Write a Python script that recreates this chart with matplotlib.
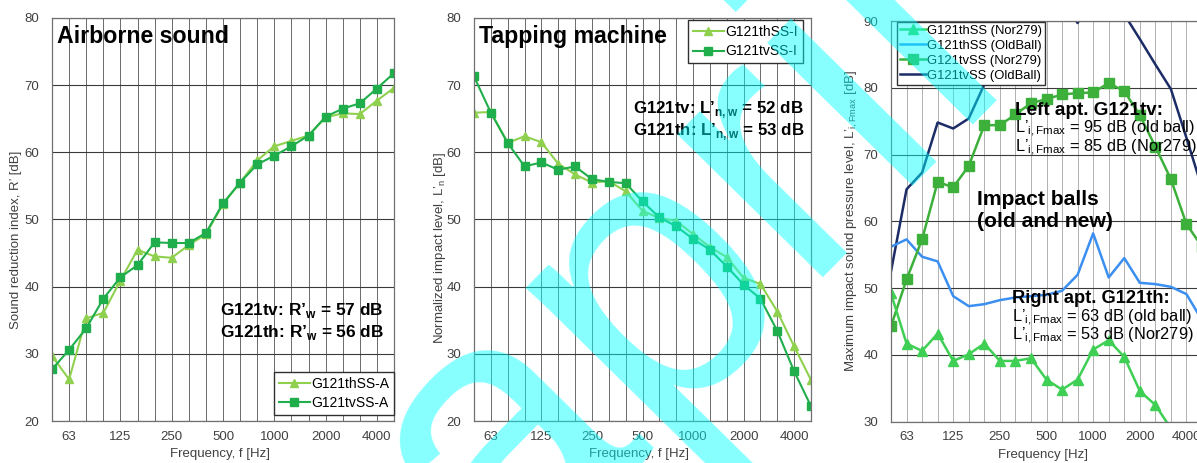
import numpy as np
import matplotlib.pyplot as plt

plt.rcParams['font.family'] = ['Liberation Sans', 'DejaVu Sans']
plt.rcParams['mathtext.fontset'] = 'custom'
plt.rcParams['mathtext.rm'] = 'Liberation Sans'

# 1/3 octave bands
freqs = [50, 63, 80, 100, 125, 160, 200, 250, 315, 400, 500, 630, 800,
         1000, 1250, 1600, 2000, 2500, 3150, 4000, 5000]
tick_freqs = [63, 125, 250, 500, 1000, 2000, 4000]

# airborne sound, R' [dB]
air_th = [29.7, 26.2, 35.3, 36.1, 40.9, 45.5, 44.5, 44.3, 46.2, 47.8, 52.3,
          55.5, 58.8, 60.9, 61.7, 62.5, 65.2, 65.8, 65.7, 67.7, 69.6]
air_tv = [27.7, 30.6, 33.8, 38.2, 41.4, 43.2, 46.6, 46.5, 46.5, 48.0, 52.4,
          55.5, 58.2, 59.5, 60.9, 62.5, 65.3, 66.5, 67.3, 69.5, 71.8]

# tapping machine, L'n [dB]
tap_th = [65.9, 66.0, 61.4, 62.4, 61.5, 58.3, 56.7, 55.5, 55.7, 54.2, 51.3,
          50.2, 49.8, 47.8, 45.9, 44.4, 41.3, 40.4, 36.3, 31.1, 26.1]
tap_tv = [71.3, 65.9, 61.4, 57.9, 58.5, 57.4, 57.9, 56.0, 55.6, 55.4, 52.7,
          50.3, 49.0, 47.1, 45.5, 43.0, 40.3, 38.2, 33.4, 27.4, 22.2]

# impact balls, L'i,Fmax [dB]
ball_th_nor = [49.2, 41.7, 40.6, 43.2, 39.1, 40.1, 41.7, 39.1, 39.1, 39.5, 36.3,
               34.8, 36.3, 40.8, 42.2, 39.7, 34.6, 32.5, 29.0, 27.0, 25.0]
ball_th_old = [56.2, 57.3, 54.7, 54.0, 48.8, 47.3, 47.6, 48.2, 48.6, 48.8, 49.0,
               49.6, 52.0, 58.2, 51.6, 54.5, 50.8, 50.6, 50.2, 49.1, 45.2]
ball_tv_nor = [44.3, 51.3, 57.3, 65.9, 65.1, 68.3, 74.4, 74.4, 76.0, 77.7, 78.3,
               79.0, 79.2, 79.3, 80.7, 79.5, 75.9, 71.2, 66.3, 59.6, 56.2]
ball_tv_old = [52.5, 64.8, 67.3, 74.8, 73.9, 75.4, 80.5, 84.5, 88.0, 91.0, 93.0,
               93.0, 89.7, 94.0, 93.0, 91.0, 87.3, 83.5, 79.8, 72.5, 65.0]

W, H = 1197, 463
fig = plt.figure(figsize=(W / 100, H / 100), dpi=100)

def fx(px):
    return px / W

def fy(py):
    return 1 - py / H

x = np.arange(len(freqs))
xlabels = [str(f) if f in tick_freqs else '' for f in freqs]
tc = '#404040'


def setup(ax, ymin, ymax, ylabel, xlabel, ylab_x, ylab_y, vgrid='#6a6a6a'):
    ax.set_xlim(0, len(freqs) - 1)
    ax.set_ylim(ymin, ymax)
    ax.set_xticks(x)
    ax.set_xticklabels(xlabels)
    ax.set_yticks(np.arange(ymin, ymax + 1, 10))
    ax.tick_params(length=0, labelsize=9.5, colors=tc)
    ax.tick_params(axis='x', pad=7)
    ax.tick_params(axis='y', pad=9)
    ax.grid(True, axis='x', color=vgrid, lw=0.7)
    ax.grid(True, axis='y', color='#3a3a3a', lw=0.8)
    ax.set_axisbelow(True)
    for s in ax.spines.values():
        s.set_color('#707070')
        s.set_linewidth(0.9)
    ax.set_ylabel(ylabel, fontsize=9.5, color=tc)
    ax.set_xlabel(xlabel, fontsize=9.5, color=tc)
    ax.yaxis.set_label_coords(ylab_x, ylab_y)
    ax.xaxis.set_label_coords(0.49, -0.067)


light = '#8fd14f'
dark = '#1fae4b'
leg = dict(fontsize=10, frameon=True, fancybox=False, framealpha=1,
           edgecolor='#303030', handlelength=2.2, handletextpad=0.1,
           labelspacing=0.4, borderpad=0.35, borderaxespad=0)

# --- airborne sound
ax1 = fig.add_axes([fx(52), fy(421), fx(342), (421 - 18) / H])
ax1.plot(x, air_th, color=light, lw=1.5, marker='^', ms=5.5, label='G121thSS-A')
ax1.plot(x, air_tv, color=dark, lw=1.5, marker='s', ms=5.5, label='G121tvSS-A')
setup(ax1, 20, 80, 'Sound reduction index, R’ [dB]', 'Frequency, f [Hz]',
      -0.088, 0.45)
ax1.legend(loc='lower right', bbox_to_anchor=(1.0, 0.015), **leg)

# --- tapping machine
ax2 = fig.add_axes([fx(474), fy(421), fx(337), (421 - 18) / H])
ax2.plot(x, tap_th, color=light, lw=1.5, marker='^', ms=5.5, label='G121thSS-I')
ax2.plot(x, tap_tv, color=dark, lw=1.5, marker='s', ms=5.5, label='G121tvSS-I')
setup(ax2, 20, 80, 'Normalized impact level, L’$_\\mathregular{n}$ [dB]',
      'Frequency, f [Hz]', -0.077, 0.43)
ax2.legend(loc='upper right', bbox_to_anchor=(0.975, 0.995), **leg)

# --- impact balls
ax3 = fig.add_axes([fx(891), fy(421.7), fx(311), (421.7 - 21) / H])
ax3.plot(x, ball_tv_old, color='#1c2c66', lw=1.8, label='G121tvSS (OldBall)')
ax3.plot(x, ball_th_old, color='#3a8ff0', lw=1.8, label='G121thSS (OldBall)')
ax3.plot(x, ball_tv_nor, color='#3cb03a', lw=1.8, marker='s', ms=7,
         label='G121tvSS (Nor279)')
ax3.plot(x, ball_th_nor, color='#3fcf55', lw=1.8, marker='^', ms=6.5,
         label='G121thSS (Nor279)')
setup(ax3, 30, 90, 'Maximum impact sound pressure level, L’$_\\mathregular{i,Fmax}$ [dB]',
      'Frequency [Hz]', -0.1, 0.5, vgrid='#b0b0b0')
h, l = ax3.get_legend_handles_labels()
order = [3, 1, 2, 0]
ax3.legend([h[i] for i in order], [l[i] for i in order], loc='upper left',
           bbox_to_anchor=(0.02, 0.997), borderaxespad=0, fontsize=9.4,
           frameon=True, fancybox=False, framealpha=1, edgecolor='#303030',
           handlelength=2.0, handletextpad=0.1, labelspacing=0.22,
           borderpad=0.2)

# --- annotations
bold = dict(fontweight='bold', color='black', va='baseline', ha='left')
reg = dict(color='black', va='baseline', ha='left')

fig.text(fx(57), fy(43), 'Airborne sound', fontsize=16.7, **bold)
fig.text(fx(479), fy(43.5), 'Tapping machine', fontsize=16.7, **bold)

fig.text(fx(220), fy(315), 'G121tv: R’$_\\mathregular{w}$ = 57 dB', fontsize=12.4, **bold)
fig.text(fx(220), fy(337), 'G121th: R’$_\\mathregular{w}$ = 56 dB', fontsize=12.4, **bold)
fig.text(fx(633), fy(113), 'G121tv: L’$_\\mathregular{n,w}$ = 52 dB', fontsize=12.2, **bold)
fig.text(fx(633), fy(135), 'G121th: L’$_\\mathregular{n,w}$ = 53 dB', fontsize=12.2, **bold)

fig.text(fx(1015), fy(115), 'Left apt. G121tv:', fontsize=13.6, **bold)
fig.text(fx(1015), fy(133), 'L’$_\\mathregular{i,Fmax}$ = 95 dB (old ball)',
         fontsize=11.8, **reg)
fig.text(fx(1015), fy(152), 'L’$_\\mathregular{i,Fmax}$ = 85 dB (Nor279)',
         fontsize=11.8, **reg)
fig.text(fx(977), fy(205), 'Impact balls', fontsize=15.2, **bold)
fig.text(fx(977), fy(227), '(old and new)', fontsize=15.2, **bold)
fig.text(fx(1012), fy(303), 'Right apt. G121th:', fontsize=13.2, **bold)
fig.text(fx(1012), fy(322), 'L’$_\\mathregular{i,Fmax}$ = 63 dB (old ball)',
         fontsize=11.8, **reg)
fig.text(fx(1012), fy(340), 'L’$_\\mathregular{i,Fmax}$ = 53 dB (Nor279)',
         fontsize=11.8, **reg)

# watermark
fig.text(fx(500), fy(590), 'april', fontsize=278, color='#00ffff', alpha=0.47,
         rotation=45.5, rotation_mode='anchor', ha='left', va='baseline',
         zorder=10)

fig.savefig('out.png', dpi=100)
